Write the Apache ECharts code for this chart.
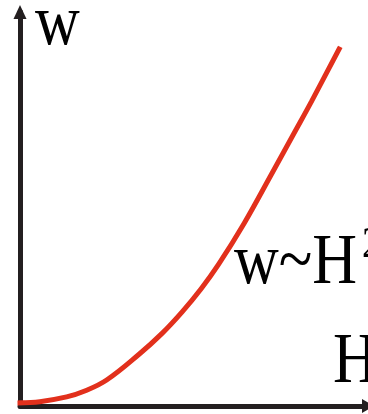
<!DOCTYPE html>
<html>
<head>
<meta charset="utf-8">
<style>
  html, body { margin: 0; padding: 0; background: #ffffff; }
  #chart { width: 368px; height: 414px; }
</style>
<script src="https://cdn.jsdelivr.net/npm/echarts@6/dist/echarts.min.js"></script>
</head>
<body>
<div id="chart"></div>
<script>
// Growth of w with H, roughly quadratic
const hValues = [0, 0.57, 1.34, 1.86, 2.49, 3.43, 4.09, 4.66, 5.2, 5.71, 6.43, 7.23, 7.91, 8.37, 9.17];
const wValues = [0.08, 0.11, 0.23, 0.38, 0.66, 1.32, 1.85, 2.39, 2.97, 3.6, 4.62, 5.89, 6.98, 7.72, 9.06];
const axisNames = { x: 'H', y: 'w' };
const relationLabel = 'w~H';
const relationPower = '2';

const chart = echarts.init(document.getElementById('chart'), null, { renderer: 'canvas' });

const serif = '"Liberation Serif", "Times New Roman", serif';
const axisColor = '#231f20';
const curveColor = '#e2301c';
const stretch = 1.15;

function label(text, x, y, size) {
  return {
    type: 'text',
    x: x,
    y: y,
    scaleY: stretch,
    z: 10,
    style: {
      text: text,
      x: 0,
      y: 0,
      fill: '#000000',
      font: size + 'px ' + serif,
      textAlign: 'left',
      textVerticalAlign: 'top'
    }
  };
}

chart.setOption({
  animation: false,
  grid: { left: 20, right: -2, top: 12, bottom: 8 },
  xAxis: {
    type: 'value',
    min: 0,
    max: 10,
    axisLine: {
      show: true,
      symbol: ['none', 'triangle'],
      symbolSize: [14, 12],
      lineStyle: { color: axisColor, width: 5 }
    },
    axisTick: { show: false },
    axisLabel: { show: false },
    splitLine: { show: false }
  },
  yAxis: {
    type: 'value',
    min: 0,
    max: 10,
    axisLine: {
      show: true,
      onZero: false,
      symbol: ['none', 'triangle'],
      symbolSize: [13, 14],
      lineStyle: { color: axisColor, width: 5 }
    },
    axisTick: { show: false },
    axisLabel: { show: false },
    splitLine: { show: false }
  },
  series: [{
    type: 'line',
    data: hValues.map((h, i) => [h, wValues[i]]),
    smooth: 0.4,
    showSymbol: false,
    symbol: 'none',
    lineStyle: { color: curveColor, width: 5, cap: 'square' },
    z: 3
  }],
  graphic: [
    label(axisNames.y, 35, -10, 62),
    label(axisNames.x, 333, 328, 62),
    label(relationLabel, 234, 229, 62),
    label(relationPower, 362, 224, 38)
  ]
});
</script>
</body>
</html>
